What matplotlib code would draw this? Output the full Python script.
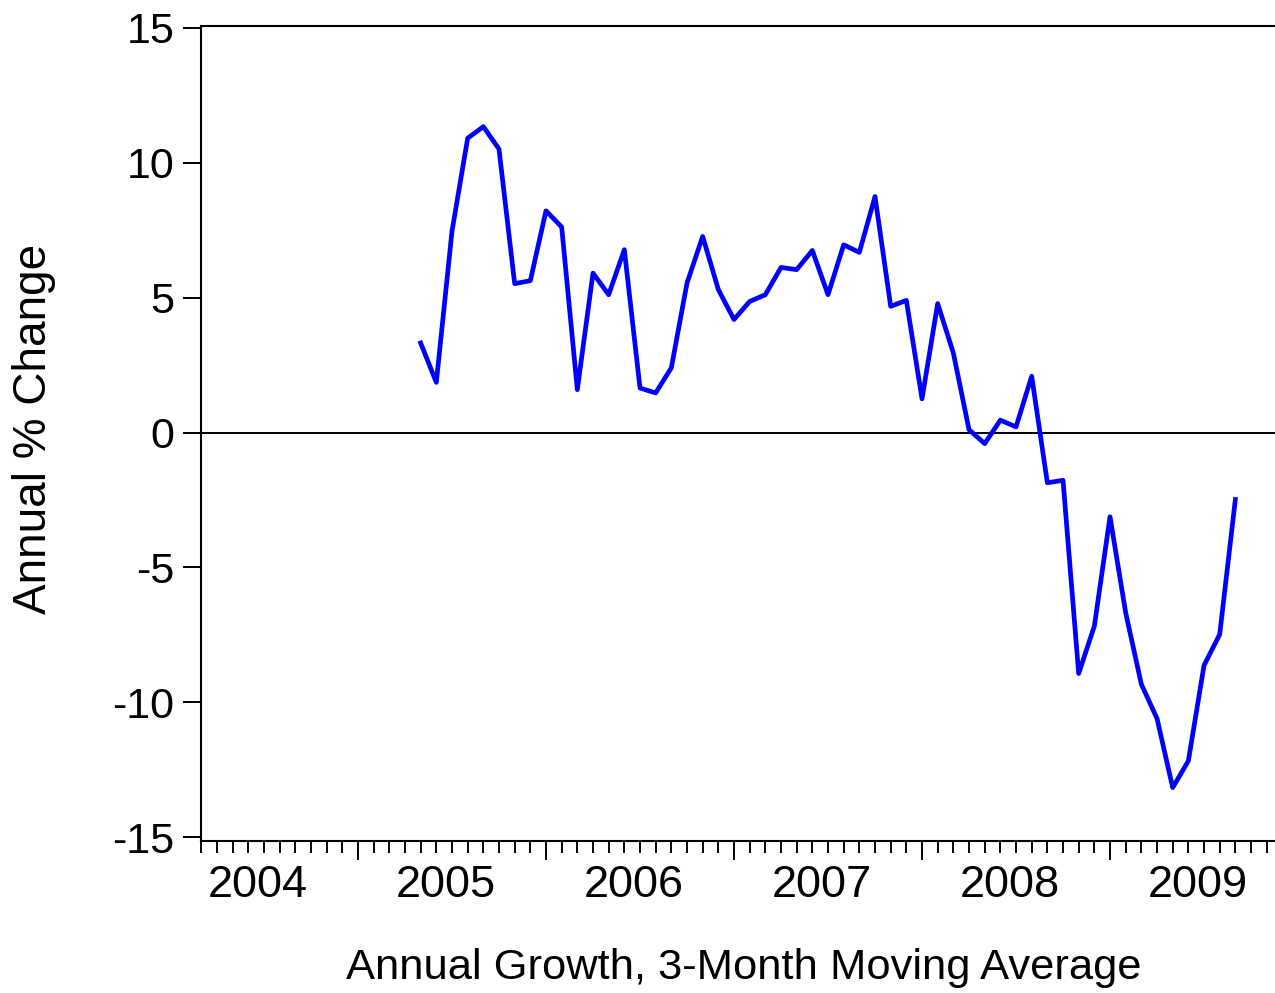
import numpy as np
import matplotlib.pyplot as plt

plt.rcParams['font.family'] = ['Liberation Sans', 'DejaVu Sans']
plt.rcParams['axes.unicode_minus'] = False

# Monthly data, May 2005 .. Sep 2009 (annual % change, 3-month moving average)
start_year, start_month = 2005, 5
growth = [3.32, 1.86, 7.46, 10.91, 11.34, 10.51, 5.52, 5.63,
          8.22, 7.62, 1.59, 5.91, 5.11, 6.78, 1.65, 1.47, 2.40, 5.54, 7.27, 5.30,
          4.19, 4.86, 5.11, 6.12, 6.04, 6.75, 5.11, 6.96, 6.68, 8.75, 4.68, 4.90,
          1.25, 4.78, 2.95, 0.11, -0.41, 0.46, 0.21, 2.09, -1.86, -1.77, -8.93, -7.17,
          -3.12, -6.68, -9.33, -10.60, -13.16, -12.17, -8.63, -7.48, -2.48]
years = [2004, 2005, 2006, 2007, 2008, 2009]
yticks = [15, 10, 5, 0, -5, -10, -15]

# x in months since Jan 2004 (0 = Jan 2004)
x0 = (start_year - 2004) * 12 + (start_month - 1)
x = x0 + np.arange(len(growth))

fig = plt.figure(figsize=(12.75, 9.93), dpi=100)
ax = fig.add_axes([201 / 1275, 1 - 840.5 / 993, 1 - 201 / 1275, (840.5 - 26) / 993])

ax.axhline(0, color='black', lw=1.4, zorder=1)
ax.plot(x, growth, color='#0000ff', lw=3.4, zorder=2)

ax.set_xlim(1.98, 70.53)
ax.set_ylim(-15.12, 15.07)

ax.spines['right'].set_visible(False)
for s in ['left', 'top', 'bottom']:
    ax.spines[s].set_linewidth(1.5)

# y axis
ax.set_yticks(yticks)
ax.set_yticklabels([str(v) for v in yticks])
ax.tick_params(axis='y', direction='out', length=13, width=1.4, pad=6, labelsize=31)

# x axis: long ticks each January, short ticks each month, year labels mid-year
ax.set_xticks([(y - 2004) * 12 for y in years if (y - 2004) * 12 >= 2])
ax.set_xticklabels([])
ax.set_xticks(np.arange(2, 71), minor=True)
ax.tick_params(axis='x', which='major', direction='out', length=14, width=1.4)
ax.tick_params(axis='x', which='minor', direction='out', length=8.5, width=1.4)
for y in years:
    ax.annotate(str(y), xy=((y - 2004) * 12 + 5.6, 0), xycoords=('data', 'axes fraction'),
                xytext=(0, -32.5), textcoords='offset points',
                ha='center', va='center', fontsize=32.5, annotation_clip=False)

fig.text(34 / 1275, 1 - 429 / 993, 'Annual % Change', rotation=90,
         ha='center', va='center', fontsize=33)
fig.text(744 / 1275, 1 - 968 / 993, 'Annual Growth, 3-Month Moving Average',
         ha='center', va='center', fontsize=31.3)

fig.savefig('out.png', dpi=100)
